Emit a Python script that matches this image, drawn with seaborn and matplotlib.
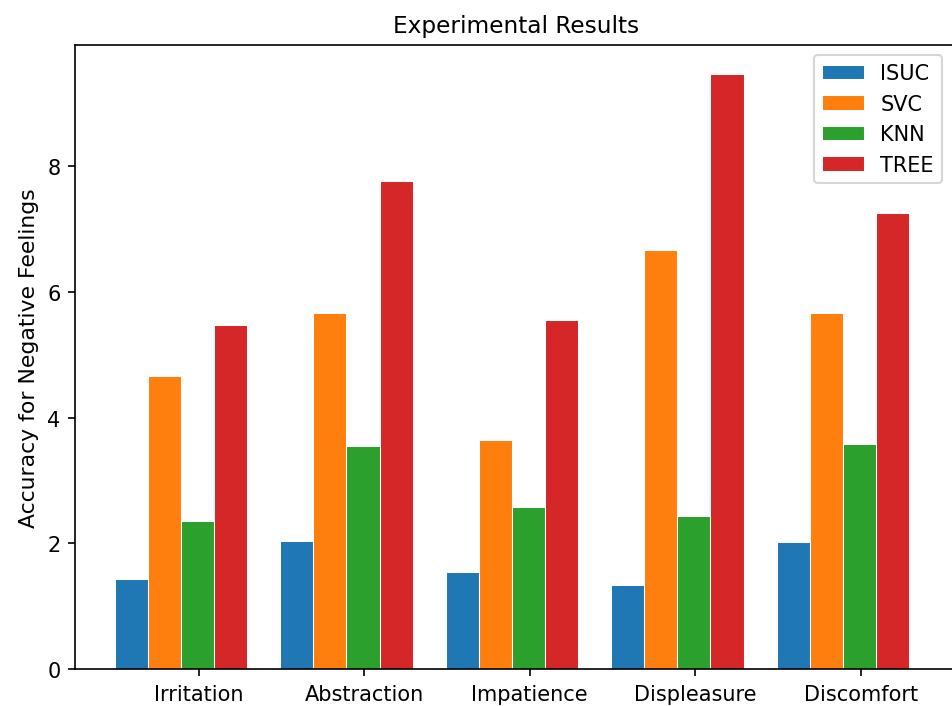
## grouped bar chart of classifier accuracy per feeling

import matplotlib
matplotlib.use("Agg")
import matplotlib.pyplot as plt
import seaborn as sns
import pandas as pd

feelings = ["Irritation", "Abstraction", "Impatience", "Displeasure", "Discomfort"]
models = ["ISUC", "SVC", "KNN", "TREE"]

isuc = [1.44, 2.03, 1.54, 1.34, 2.02]
svc = [4.66, 5.66, 3.65, 6.66, 5.66]
knn = [2.36, 3.55, 2.57, 2.44, 3.58]
tree = [5.47, 7.76, 5.56, 9.46, 7.25]

colors = ["#1f77b4", "#ff7f0e", "#2ca02c", "#d62728"]

## long format table for seaborn
rows = []
for model, vals in zip(models, [isuc, svc, knn, tree]):
    for f, v in zip(feelings, vals):
        rows.append({"feeling": f, "model": model, "value": v})
df = pd.DataFrame(rows)

fig = plt.figure(figsize=(952 / 150, 707 / 150), dpi=150)
## right edge sits just past the canvas, as in the cropped original
ax = fig.add_axes([0.0788, 0.0523, 0.9265, 0.8831])

sns.barplot(data=df, x="feeling", y="value", hue="model",
            order=feelings, hue_order=models, palette=colors,
            saturation=1, width=0.8, edgecolor="white", linewidth=0.5,
            errorbar=None, ax=ax)

ax.set_xlim(-0.64, 4.69)
ax.set_ylim(0, max(tree) * 1.05)
ax.set_xticks([i + 0.108 for i in range(len(feelings))])
ax.set_xticklabels(feelings)
ax.set_xlabel("")
ax.set_ylabel("Accuracy for Negative Feelings", fontsize=10.5)
ax.set_title("Experimental Results", fontsize=11.2)
ax.legend(loc="upper right", bbox_to_anchor=(0.995, 1.0))

fig.savefig("out.png", dpi=150)
